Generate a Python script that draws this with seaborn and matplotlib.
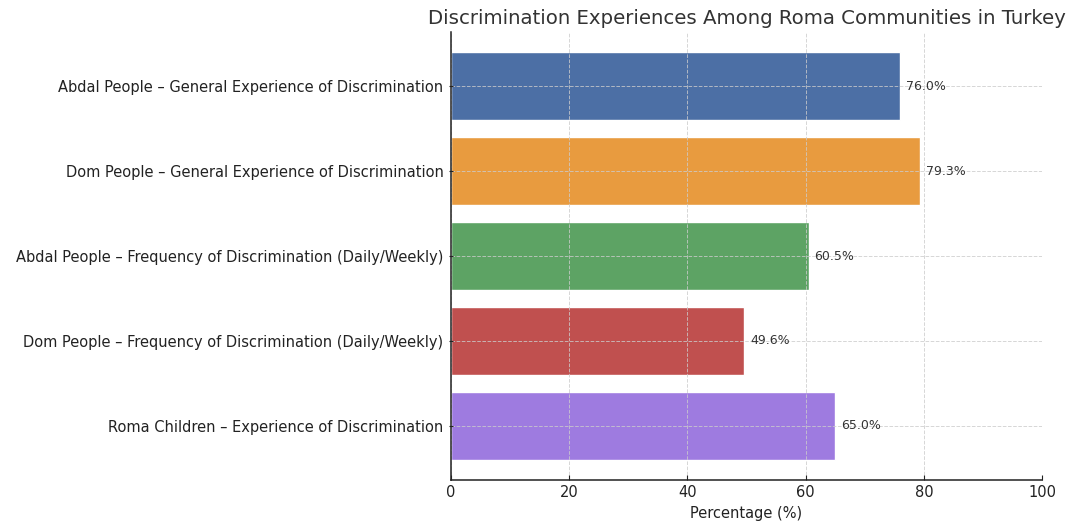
import matplotlib.pyplot as plt
import pandas as pd
import seaborn as sns

# data
categories = [
    "Abdal People – General Experience of Discrimination",
    "Dom People – General Experience of Discrimination",
    "Abdal People – Frequency of Discrimination (Daily/Weekly)",
    "Dom People – Frequency of Discrimination (Daily/Weekly)",
    "Roma Children – Experience of Discrimination",
]
percentages = [76.0, 79.3, 60.5, 49.6, 65.0]
bar_colors = ["#4C6FA5", "#E89B3F", "#5DA364", "#C0504F", "#9E7BE0"]

df = pd.DataFrame({"category": categories, "pct": percentages})

sns.set_style("ticks")
plt.rcParams["font.family"] = ["DejaVu Sans"]

fig, ax = plt.subplots(figsize=(10.71, 5.22), dpi=100)

sns.barplot(data=df, x="pct", y="category", hue="category",
            palette=bar_colors, legend=False, width=0.8,
            saturation=1, ax=ax, zorder=1)

# value labels next to each bar
for i, v in enumerate(percentages):
    ax.text(v + 1, i, f"{v:.1f}%", va="center", ha="left",
            fontsize=9, color="#333333", zorder=3)

ax.set_xlim(0, 100)
ax.set_ylim(len(categories) - 1 + 0.64, -0.64)
ax.set_xticks([0, 20, 40, 60, 80, 100])
ax.set_xlabel("Percentage (%)", fontsize=10.5, color="#222222")
ax.set_ylabel("")
ax.set_title("Discrimination Experiences Among Roma Communities in Turkey",
             fontsize=14.2, color="#333333")

ax.grid(True, linestyle="--", linewidth=0.7, color="#cccccc", alpha=0.8, zorder=2)
ax.set_axisbelow(False)
ax.tick_params(axis="x", direction="in", labelsize=10.5, colors="#222222")
ax.tick_params(axis="y", direction="inout", labelsize=10.5, colors="#222222")
sns.despine(ax=ax)
for s in ["left", "bottom"]:
    ax.spines[s].set_color("#222222")
    ax.spines[s].set_linewidth(1.1)
    ax.spines[s].set_zorder(4)

plt.subplots_adjust(left=0.421, right=0.973, top=0.939, bottom=0.08)
plt.savefig("out.png", dpi=100)
